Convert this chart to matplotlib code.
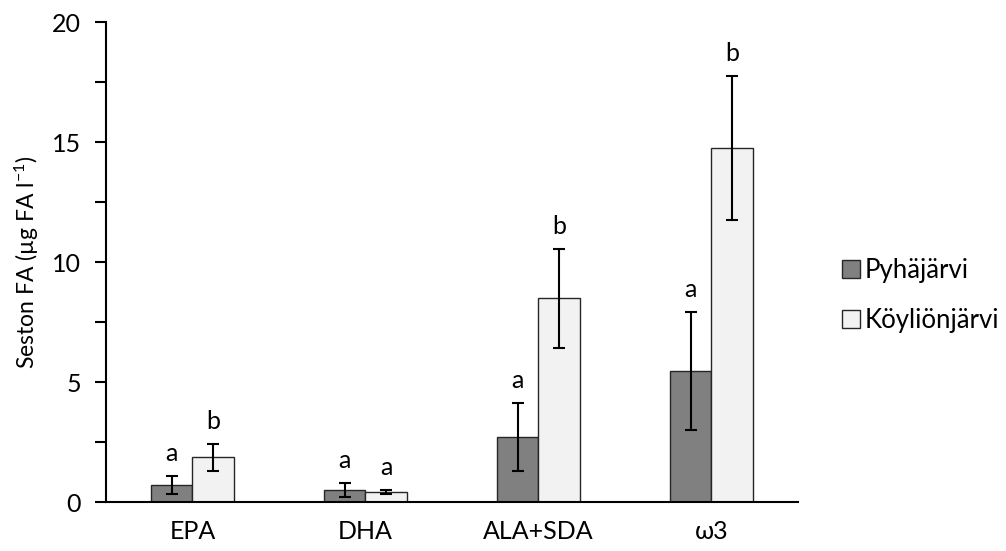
import matplotlib
matplotlib.use('Agg')
import matplotlib.pyplot as plt
import numpy as np
from matplotlib.ticker import MultipleLocator

plt.rcParams['font.family'] = ['Lato', 'DejaVu Sans']
plt.rcParams['mathtext.default'] = 'regular'

categories = ['EPA', 'DHA', 'ALA+SDA', 'ω3']
series_names = ['Pyhäjärvi', 'Köyliönjärvi']
pyha = [0.71, 0.49, 2.72, 5.47]
pyha_err = [0.39, 0.30, 1.42, 2.45]
koyl = [1.86, 0.42, 8.49, 14.74]
koyl_err = [0.57, 0.10, 2.07, 3.00]
pyha_letters = ['a', 'a', 'a', 'a']
koyl_letters = ['b', 'a', 'b', 'b']

fig = plt.figure(figsize=(10.06, 5.51), dpi=100)
ax = fig.add_axes([0.1054, 0.0889, 0.6876, 0.8711])

x = np.arange(len(categories))
w = 0.24
err_kw = dict(ecolor='black', elinewidth=1.5, capsize=4.3, capthick=1.5)
b1 = ax.bar(x - w / 2, pyha, w, yerr=pyha_err, color='#808080', edgecolor='#262626',
            linewidth=1, label=series_names[0], error_kw=err_kw)
b2 = ax.bar(x + w / 2, koyl, w, yerr=koyl_err, color='#f2f2f2', edgecolor='#262626',
            linewidth=1, label=series_names[1], error_kw=err_kw)

# significance letters above error bars
for i in range(len(categories)):
    ax.text(x[i] - w / 2, pyha[i] + pyha_err[i] + 0.45, pyha_letters[i], ha='center',
            va='bottom', fontsize=18)
    ax.text(x[i] + w / 2, koyl[i] + koyl_err[i] + 0.45, koyl_letters[i], ha='center',
            va='bottom', fontsize=18)

ax.set_xlim(-0.5, len(categories) - 0.5)
ax.set_ylim(0, 20)
ax.set_xticks(x)
ax.set_xticklabels(categories, fontsize=18)
ax.tick_params(axis='x', length=0, pad=13)
ax.yaxis.set_major_locator(MultipleLocator(5))
ax.yaxis.set_minor_locator(MultipleLocator(2.5))
ax.tick_params(axis='y', which='both', length=8, width=1.5, labelsize=18, pad=10)
for s in ['top', 'right']:
    ax.spines[s].set_visible(False)
ax.spines['left'].set_linewidth(1.5)
ax.spines['bottom'].set_linewidth(1.5)

ax.set_ylabel('Seston FA (µg FA l$^{-1}$)', fontsize=16.5, labelpad=8)

ax.legend(frameon=False, loc='center left', bbox_to_anchor=(1.03, 0.43), fontsize=18.5,
          handlelength=0.7, handleheight=0.7, handletextpad=0.2, labelspacing=0.95)

fig.savefig('out.png', dpi=100)
